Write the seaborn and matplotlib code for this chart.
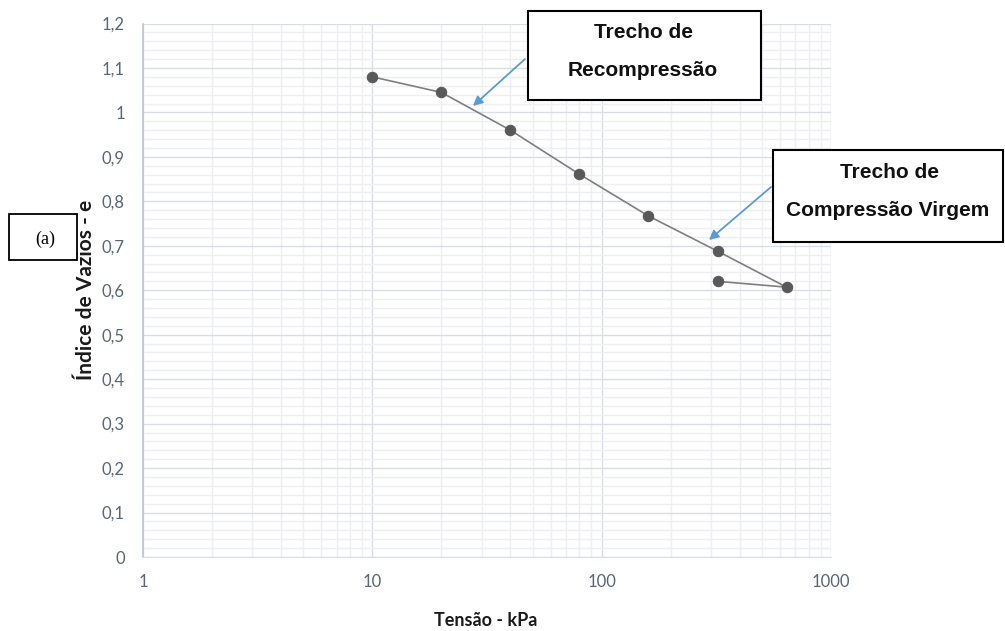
import matplotlib
matplotlib.use("Agg")
import matplotlib.pyplot as plt
from matplotlib.patches import Rectangle
from matplotlib.ticker import LogLocator, MultipleLocator, FixedLocator, FixedFormatter
import seaborn as sns

# Oedometer test data (loading then unloading)
tensao = [10, 20, 40, 80, 160, 320, 640, 320]
indice_vazios = [1.08, 1.045, 0.96, 0.861, 0.767, 0.688, 0.607, 0.62]

x_ticks = [1, 10, 100, 1000]
x_tick_labels = ["1", "10", "100", "1000"]
y_ticks = [0, 0.1, 0.2, 0.3, 0.4, 0.5, 0.6, 0.7, 0.8, 0.9, 1.0, 1.1, 1.2]
y_tick_labels = ["0", "0,1", "0,2", "0,3", "0,4", "0,5", "0,6", "0,7", "0,8", "0,9", "1", "1,1", "1,2"]

sns.set_style("white")
plt.rcParams["font.family"] = ["Lato", "DejaVu Sans"]

W, H = 1005, 631
fig = plt.figure(figsize=(W / 100, H / 100), dpi=100)
ax = fig.add_axes([143 / W, 1 - 557 / H, (831 - 143) / W, (557 - 23.5) / H])

sns.lineplot(x=tensao, y=indice_vazios, sort=False, estimator=None, ax=ax,
             color="#7f7f7f", linewidth=1.2, marker="o", markersize=7.5,
             markerfacecolor="#595959", markeredgecolor="#595959", zorder=5)

ax.set_xscale("log")
ax.set_xlim(1, 1000)
ax.set_ylim(0, 1.2)

ax.xaxis.set_major_locator(FixedLocator(x_ticks))
ax.xaxis.set_major_formatter(FixedFormatter(x_tick_labels))
ax.xaxis.set_minor_locator(LogLocator(base=10, subs=range(2, 10)))
ax.xaxis.set_minor_formatter(FixedFormatter([]))
ax.yaxis.set_major_locator(FixedLocator(y_ticks))
ax.yaxis.set_major_formatter(FixedFormatter(y_tick_labels))
ax.yaxis.set_minor_locator(MultipleLocator(0.02))

ax.grid(which="major", color="#d9dde6", linewidth=1.0)
ax.grid(which="minor", color="#edeff3", linewidth=1.0)
ax.set_axisbelow(True)

for side in ["top", "right"]:
    ax.spines[side].set_visible(False)
ax.spines["left"].set_color("#bcc4d2")
ax.spines["bottom"].set_color("#d9dde6")
ax.spines["left"].set_linewidth(1.2)

ax.tick_params(axis="both", which="both", length=0, colors="#5a6578", labelsize=12)
ax.tick_params(axis="x", pad=12)
ax.tick_params(axis="y", pad=13)

ax.set_xlabel("Tensão - kPa", fontsize=13, fontweight="bold", color="#1a1a1a")
ax.set_ylabel("Índice de Vazios - e", fontsize=15, fontweight="bold", color="#1a1a1a")
ax.xaxis.set_label_coords((486 - 143) / (831 - 143), -(612 - 557) / (557 - 23.5))
ax.yaxis.set_label_coords(-(143 - 96) / (831 - 143), 0.5)

# annotation boxes
def fig_box(x0, y0, x1, y1, lw=1.5):
    fig.patches.append(Rectangle((x0 / W, 1 - y1 / H), (x1 - x0) / W, (y1 - y0) / H,
                                 transform=fig.transFigure, fill=True, facecolor="white",
                                 edgecolor="black", linewidth=lw, zorder=10))

box_font = ["Liberation Sans", "DejaVu Sans"]
fig_box(528, 11, 761, 100)
fig.text(643 / W, 1 - 32 / H, "Trecho de", ha="center", va="center", fontsize=15,
         fontweight="bold", family=box_font, color="#111111", zorder=11)
fig.text(643 / W, 1 - 70 / H, "Recompressão", ha="center", va="center", fontsize=15,
         fontweight="bold", family=box_font, color="#111111", zorder=11)

fig_box(773, 150, 1003, 242)
fig.text(889 / W, 1 - 172 / H, "Trecho de", ha="center", va="center", fontsize=15,
         fontweight="bold", family=box_font, color="#111111", zorder=11)
fig.text(888 / W, 1 - 210 / H, "Compressão Virgem", ha="center", va="center", fontsize=15,
         fontweight="bold", family=box_font, color="#111111", zorder=11)

fig_box(9, 214, 77, 260, lw=1.3)
fig.text(45 / W, 1 - 239 / H, "(a)", ha="center", va="center", fontsize=13,
         family=["Liberation Serif", "DejaVu Serif"], color="black", zorder=11)

# arrows
arrow_style = dict(arrowstyle="-|>", color="#5b9bd5", lw=1.3, mutation_scale=14,
                   shrinkA=0, shrinkB=0)
ax.annotate("", xy=(473 / W, 1 - 106 / H), xytext=(525 / W, 1 - 59 / H),
            xycoords="figure fraction", textcoords="figure fraction", arrowprops=arrow_style)
ax.annotate("", xy=(709 / W, 1 - 240 / H), xytext=(771 / W, 1 - 187 / H),
            xycoords="figure fraction", textcoords="figure fraction", arrowprops=arrow_style)

fig.savefig("out.png", dpi=100, facecolor="white")
